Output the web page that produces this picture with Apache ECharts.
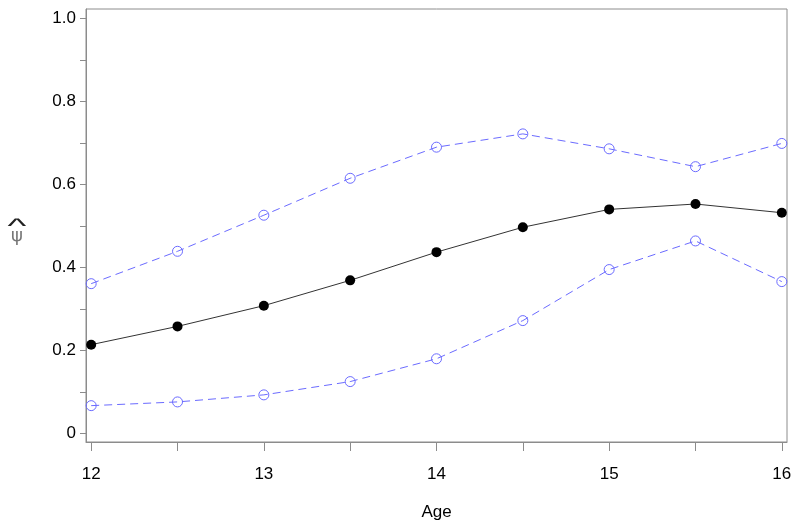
<!DOCTYPE html>
<html>
<head>
<meta charset="utf-8">
<script src="https://cdn.jsdelivr.net/npm/echarts@6/dist/echarts.min.js"></script>
<style>html,body{margin:0;padding:0;background:#fff}#c{width:800px;height:530px}</style>
</head>
<body>
<div id="c"></div>
<script>
const ages = [12, 12.5, 13, 13.5, 14, 14.5, 15, 15.5, 16];
const estimate = [0.214, 0.258, 0.308, 0.369, 0.437, 0.497, 0.540, 0.553, 0.532];
const upper = [0.361, 0.439, 0.526, 0.615, 0.690, 0.722, 0.686, 0.643, 0.699];
const lower = [0.067, 0.076, 0.093, 0.125, 0.180, 0.272, 0.395, 0.464, 0.366];
const xLabels = [12, 13, 14, 15, 16];
const xTicks = [12, 12.5, 13, 13.5, 14, 14.5, 15, 15.5, 16];
const yLabels = [0, 0.2, 0.4, 0.6, 0.8, 1.0];
const yTicks = [0, 0.1, 0.2, 0.3, 0.4, 0.5, 0.6, 0.7, 0.8, 0.9, 1.0];

const pairs = arr => ages.map((a, i) => [a, arr[i]]);
const axisColor = '#8c8c8c';
const labelFont = { fontFamily: 'Liberation Sans, Arial, sans-serif', fontSize: 17, color: '#000' };

const chart = echarts.init(document.getElementById('c'), null, { renderer: 'canvas' });
chart.setOption({
  animation: false,
  backgroundColor: '#fff',
  grid: { left: 86, right: 13, top: 9, bottom: 88, show: true, borderColor: axisColor, borderWidth: 1, containLabel: false },
  xAxis: {
    type: 'value', min: 11.97, max: 16.03,
    name: 'Age', nameLocation: 'middle', nameGap: 62,
    nameTextStyle: labelFont,
    axisLine: { show: true, onZero: false, lineStyle: { color: axisColor, width: 1 } },
    axisTick: { show: true, inside: false, length: 9, customValues: xTicks, lineStyle: { color: axisColor } },
    axisLabel: Object.assign({ customValues: xLabels, margin: 24, inside: false }, labelFont),
    splitLine: { show: false }
  },
  yAxis: {
    type: 'value', min: -0.0206, max: 1.023,
    axisLine: { show: true, onZero: false, lineStyle: { color: axisColor, width: 1 } },
    axisTick: { show: true, inside: false, length: 6, customValues: yTicks, lineStyle: { color: axisColor } },
    axisLabel: Object.assign({ customValues: yLabels, margin: 10, inside: false, formatter: v => v === 0 ? '0' : v.toFixed(1) }, labelFont),
    splitLine: { show: false }
  },
  graphic: [
    { type: 'text', x: 17, y: 227, scaleX: 2.0, scaleY: 1.0,
      style: { x: 0, y: 0, text: '^', textAlign: 'center', textVerticalAlign: 'middle', fontFamily: 'Liberation Sans', fontSize: 20, fill: '#222' } },
    { type: 'text', style: { x: 17, y: 236, text: 'ψ', textAlign: 'center', textVerticalAlign: 'middle', fontFamily: 'DejaVu Sans', fontSize: 18, fill: '#777' } }
  ],
  series: [
    {
      type: 'line', data: pairs(upper), symbol: 'circle', symbolSize: 10,
      lineStyle: { color: '#6b6bff', width: 1, type: [8, 5] },
      itemStyle: { color: 'rgba(0,0,0,0)', borderColor: '#6b6bff', borderWidth: 1 }
    },
    {
      type: 'line', data: pairs(lower), symbol: 'circle', symbolSize: 10,
      lineStyle: { color: '#6b6bff', width: 1, type: [8, 5] },
      itemStyle: { color: 'rgba(0,0,0,0)', borderColor: '#6b6bff', borderWidth: 1 }
    },
    {
      type: 'line', data: pairs(estimate), symbol: 'circle', symbolSize: 10,
      lineStyle: { color: '#333', width: 1 },
      itemStyle: { color: '#000', borderWidth: 0 }
    }
  ]
});
</script>
</body>
</html>
